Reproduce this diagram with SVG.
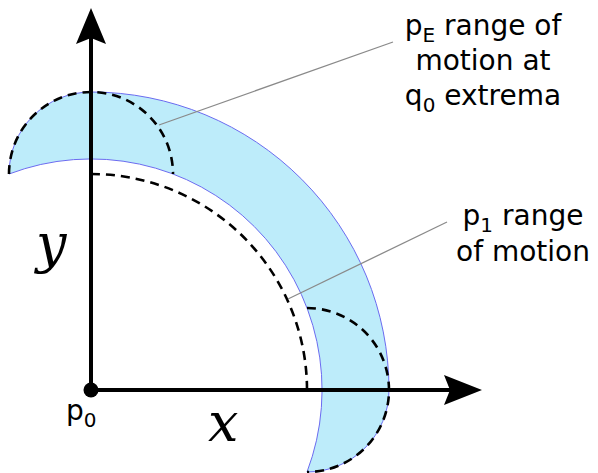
<svg xmlns="http://www.w3.org/2000/svg" width="598" height="473" viewBox="0 0 598 473">
<style>
.band{fill:#bdecfa;stroke:#6b6bf0;stroke-width:1}
.dash{fill:none;stroke:#000;stroke-width:2.6;stroke-dasharray:9 6}
.axis{stroke:#000;stroke-width:4;fill:none}
.head{fill:#000}
.leader{stroke:#8a8a8a;stroke-width:1.3;fill:none}
.lbl{font-family:"DejaVu Sans","Liberation Sans",sans-serif;font-size:28px;fill:#000}
.sub{font-size:20px}
.math{font-family:"DejaVu Serif","Liberation Serif",serif;font-style:italic;font-size:54px;fill:#000}
</style>
<rect width="598" height="473" fill="#fff"/>
<g id="pE-range">
<path class="band" d="M9,174 A82,82 0 0 1 91,92 A298,298 0 0 1 389,390 A82,82 0 0 1 307,472 A231.04,231.04 0 0 0 9,174 Z"/>
<path class="dash" d="M9,174 A82,82 0 0 1 91,92 A82,82 0 0 1 173,174"/>
<path class="dash" d="M307,308 A82,82 0 0 1 389,390 A82,82 0 0 1 307,472"/>
</g>
<g id="p1-range">
<path class="dash" d="M91,174 A216,216 0 0 1 307,390"/>
</g>
<g id="axes">
<line class="axis" x1="91" y1="390" x2="91" y2="38"/>
<polygon class="head" points="91,8 106,44 91,38 76,44"/>
<line class="axis" x1="91" y1="390" x2="452" y2="390"/>
<polygon class="head" points="482,390 444,405 450,390 444,375"/>
</g>
<g id="p0">
<circle cx="91" cy="390" r="7.5" fill="#000"/>
<text class="lbl" x="66" y="420">p<tspan class="sub" dy="7">0</tspan></text>
</g>
<g id="connectors">
<line class="leader" x1="159" y1="125" x2="393" y2="42"/>
<line class="leader" x1="288" y1="299" x2="447" y2="222"/>
</g>
<g id="label-pE">
<text class="lbl" text-anchor="middle"><tspan x="483" y="35">p<tspan class="sub" dy="7">E</tspan><tspan dy="-7"> range of</tspan></tspan><tspan x="483" y="70">motion at</tspan><tspan x="483" y="105">q<tspan class="sub" dy="7">0</tspan><tspan dy="-7"> extrema</tspan></tspan></text>
</g>
<g id="label-p1">
<text class="lbl" text-anchor="middle"><tspan x="523" y="225">p<tspan class="sub" dy="7">1</tspan><tspan dy="-7"> range</tspan></tspan><tspan x="523" y="261">of motion</tspan></text>
</g>
<g id="axis-labels">
<text class="math" x="36" y="262">y</text>
<text class="math" x="208" y="441">x</text>
</g>
</svg>
